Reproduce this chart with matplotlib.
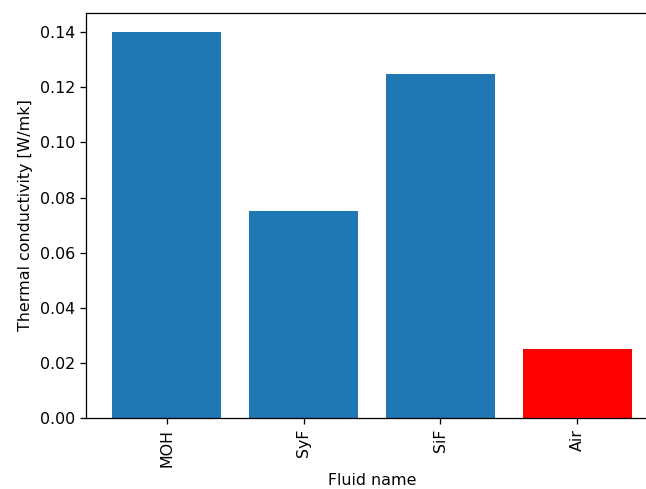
import matplotlib
matplotlib.use("Agg")
import matplotlib.pyplot as plt

fluids = ["MOH", "SyF", "SiF", "Air"]
conductivity = [0.14, 0.075, 0.125, 0.025]
bar_colors = ["#1f77b4", "#1f77b4", "#1f77b4", "red"]

# reference looks like a slightly larger render cropped on the right
DPI = 114
fig = plt.figure(figsize=(646 / DPI, 489 / DPI), dpi=DPI)
ax = fig.add_axes([86 / 646, 1 - 418 / 489, 572 / 646, 405 / 489])
ax.bar(fluids, conductivity, color=bar_colors)
ax.set_xlabel("Fluid name")
ax.set_ylabel("Thermal conductivity [W/mk]")
plt.setp(ax.get_xticklabels(), rotation=90)
# right edge falls outside the crop in the reference
ax.spines["right"].set_visible(False)

fig.savefig("out.png", dpi=DPI)
